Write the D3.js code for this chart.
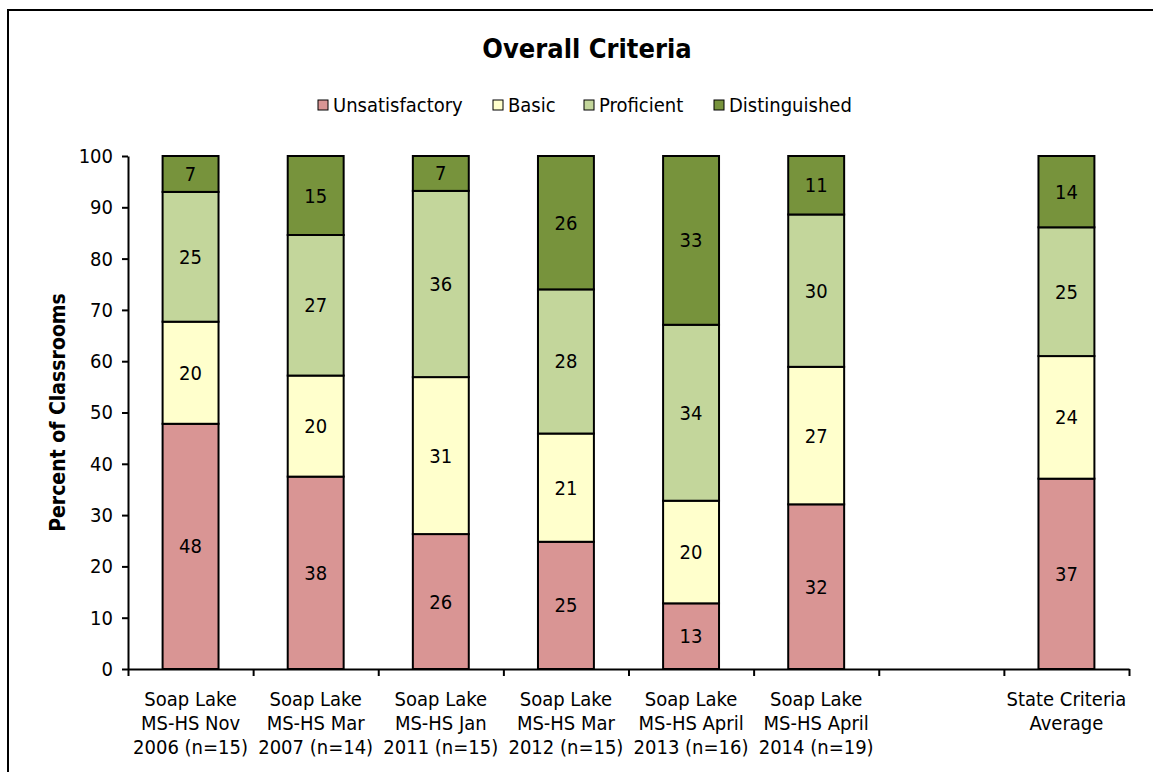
<!DOCTYPE html>
<html>
<head>
<meta charset="utf-8">
<script src="https://cdn.jsdelivr.net/npm/d3@7"></script>
<style>
  body { margin: 0; background: #fff; }
  svg { display: block; font-family: "DejaVu Sans Condensed", "DejaVu Sans", sans-serif; }
</style>
</head>
<body>
<div id="chart"></div>
<script>
// categories (the blank one is the gap before the state average)
const categories = [
    ['Soap Lake', 'MS-HS Nov', '2006 (n=15)'],
    ['Soap Lake', 'MS-HS Mar', '2007 (n=14)'],
    ['Soap Lake', 'MS-HS Jan', '2011 (n=15)'],
    ['Soap Lake', 'MS-HS Mar', '2012 (n=15)'],
    ['Soap Lake', 'MS-HS April', '2013 (n=16)'],
    ['Soap Lake', 'MS-HS April', '2014 (n=19)'],
    [],
    ['State Criteria', 'Average']
]

const seriesNames = ['Unsatisfactory', 'Basic', 'Proficient', 'Distinguished']
const seriesColors = ['#d99594', '#ffffcc', '#c3d69b', '#77933c']

const unsatisfactory = [47.8, 37.5, 26.3, 24.8, 12.8, 32.1, null, 37.1]
const basic          = [19.9, 19.7, 30.6, 21.1, 20.0, 26.8, null, 23.9]
const proficient     = [25.3, 27.4, 36.3, 28.1, 34.3, 29.7, null, 25.1]
const distinguished  = [ 7.0, 15.4,  6.8, 26.0, 32.9, 11.4, null, 13.9]

const yTicks = d3.range(0, 101, 10)

const W = 1153, H = 772
const margin = {left: 128, top: 156, right: 24, bottom: 103}
const pw = W - margin.left - margin.right
const ph = H - margin.top - margin.bottom
const fs = 20

let svg = d3.select('#chart')
    .append('svg')
    .attr('width', W)
    .attr('height', H)

// outer frame (no bottom edge, chart is cropped)
svg.append('path')
    .attr('d', `M8,${H} V10 H${W + 5}`)
    .attr('fill', 'none')
    .attr('stroke', '#000')
    .attr('stroke-width', 2)

svg.append('text')
    .attr('x', 587)
    .attr('y', 58)
    .attr('text-anchor', 'middle')
    .attr('font-size', 27)
    .attr('font-weight', 'bold')
    .text('Overall Criteria')

// legend
let legendX = [318, 493, 584, 714]
let legend = svg.append('g')
    .selectAll('g')
    .data(seriesNames)
    .enter()
    .append('g')
    .attr('transform', (d, i) => `translate(${legendX[i]},105)`)
legend.append('rect')
    .attr('x', 0).attr('y', -5)
    .attr('width', 10).attr('height', 10)
    .attr('fill', (d, i) => seriesColors[i])
    .attr('stroke', '#000')
    .attr('stroke-width', 1)
legend.append('text')
    .attr('x', 15)
    .attr('y', 7)
    .attr('font-size', fs)
    .text(d => d)

let g = svg.append('g')
    .attr('transform', `translate(${margin.left},${margin.top})`)

let x = d3.scaleBand()
    .domain(d3.range(categories.length))
    .range([0, pw])
    .paddingInner(0.553)
    .paddingOuter(0.2765)

let xb = d3.scaleLinear()
    .domain([0, categories.length])
    .range([0, pw])

let y = d3.scaleLinear()
    .domain([0, 100])
    .range([ph, 0])

// stacked data
let rows = categories.map((c, i) => ({
    i: i,
    Unsatisfactory: unsatisfactory[i],
    Basic: basic[i],
    Proficient: proficient[i],
    Distinguished: distinguished[i]
})).filter(r => r.Unsatisfactory != null)

let stacked = d3.stack().keys(seriesNames)(rows)

let layers = g.selectAll('g.layer')
    .data(stacked)
    .enter()
    .append('g')
    .attr('class', 'layer')
    .attr('fill', (d, i) => seriesColors[i])

layers.selectAll('rect')
    .data(d => d)
    .enter()
    .append('rect')
    .attr('x', d => x(d.data.i))
    .attr('width', x.bandwidth())
    .attr('y', d => y(d[1]))
    .attr('height', d => y(d[0]) - y(d[1]))
    .attr('stroke', '#000')
    .attr('stroke-width', 2)

layers.selectAll('text')
    .data(d => d)
    .enter()
    .append('text')
    .attr('x', d => x(d.data.i) + x.bandwidth() / 2)
    .attr('y', d => (y(d[0]) + y(d[1])) / 2 + 7)
    .attr('text-anchor', 'middle')
    .attr('font-size', fs)
    .attr('fill', '#000')
    .text(d => Math.round(d[1] - d[0]))

// y axis
let yAxis = g.append('g')
    .call(d3.axisLeft(y).tickValues(yTicks).tickSize(6).tickSizeOuter(0))
yAxis.select('.domain').attr('stroke-width', 2)
yAxis.selectAll('.tick line').attr('stroke-width', 2)
yAxis.selectAll('.tick text')
    .attr('font-size', fs)
    .attr('font-family', '"DejaVu Sans Condensed", "DejaVu Sans", sans-serif')
    .attr('fill', '#000')
    .attr('x', -15)

// x axis with ticks at category boundaries
let xAxis = g.append('g')
    .attr('transform', `translate(0,${ph})`)
    .call(d3.axisBottom(xb).tickValues(d3.range(categories.length + 1)).tickFormat('').tickSize(7).tickSizeOuter(0))
xAxis.select('.domain').attr('stroke-width', 2)
xAxis.selectAll('.tick line').attr('stroke-width', 2)

let catLabels = g.append('g')
    .attr('transform', `translate(0,${ph})`)
    .selectAll('text')
    .data(categories)
    .enter()
    .append('text')
    .attr('x', (d, i) => x(i) + x.bandwidth() / 2)
    .attr('y', 37)
    .attr('text-anchor', 'middle')
    .attr('font-size', fs)
catLabels.selectAll('tspan')
    .data(d => d)
    .enter()
    .append('tspan')
    .attr('x', function() { return this.parentNode.getAttribute('x') })
    .attr('dy', (d, i) => i == 0 ? 0 : 24)
    .text(d => d)

svg.append('text')
    .attr('transform', `translate(65,${margin.top + ph / 2}) rotate(-90)`)
    .attr('text-anchor', 'middle')
    .attr('font-size', 21)
    .attr('font-weight', 'bold')
    .text('Percent of Classrooms')
</script>
</body>
</html>
